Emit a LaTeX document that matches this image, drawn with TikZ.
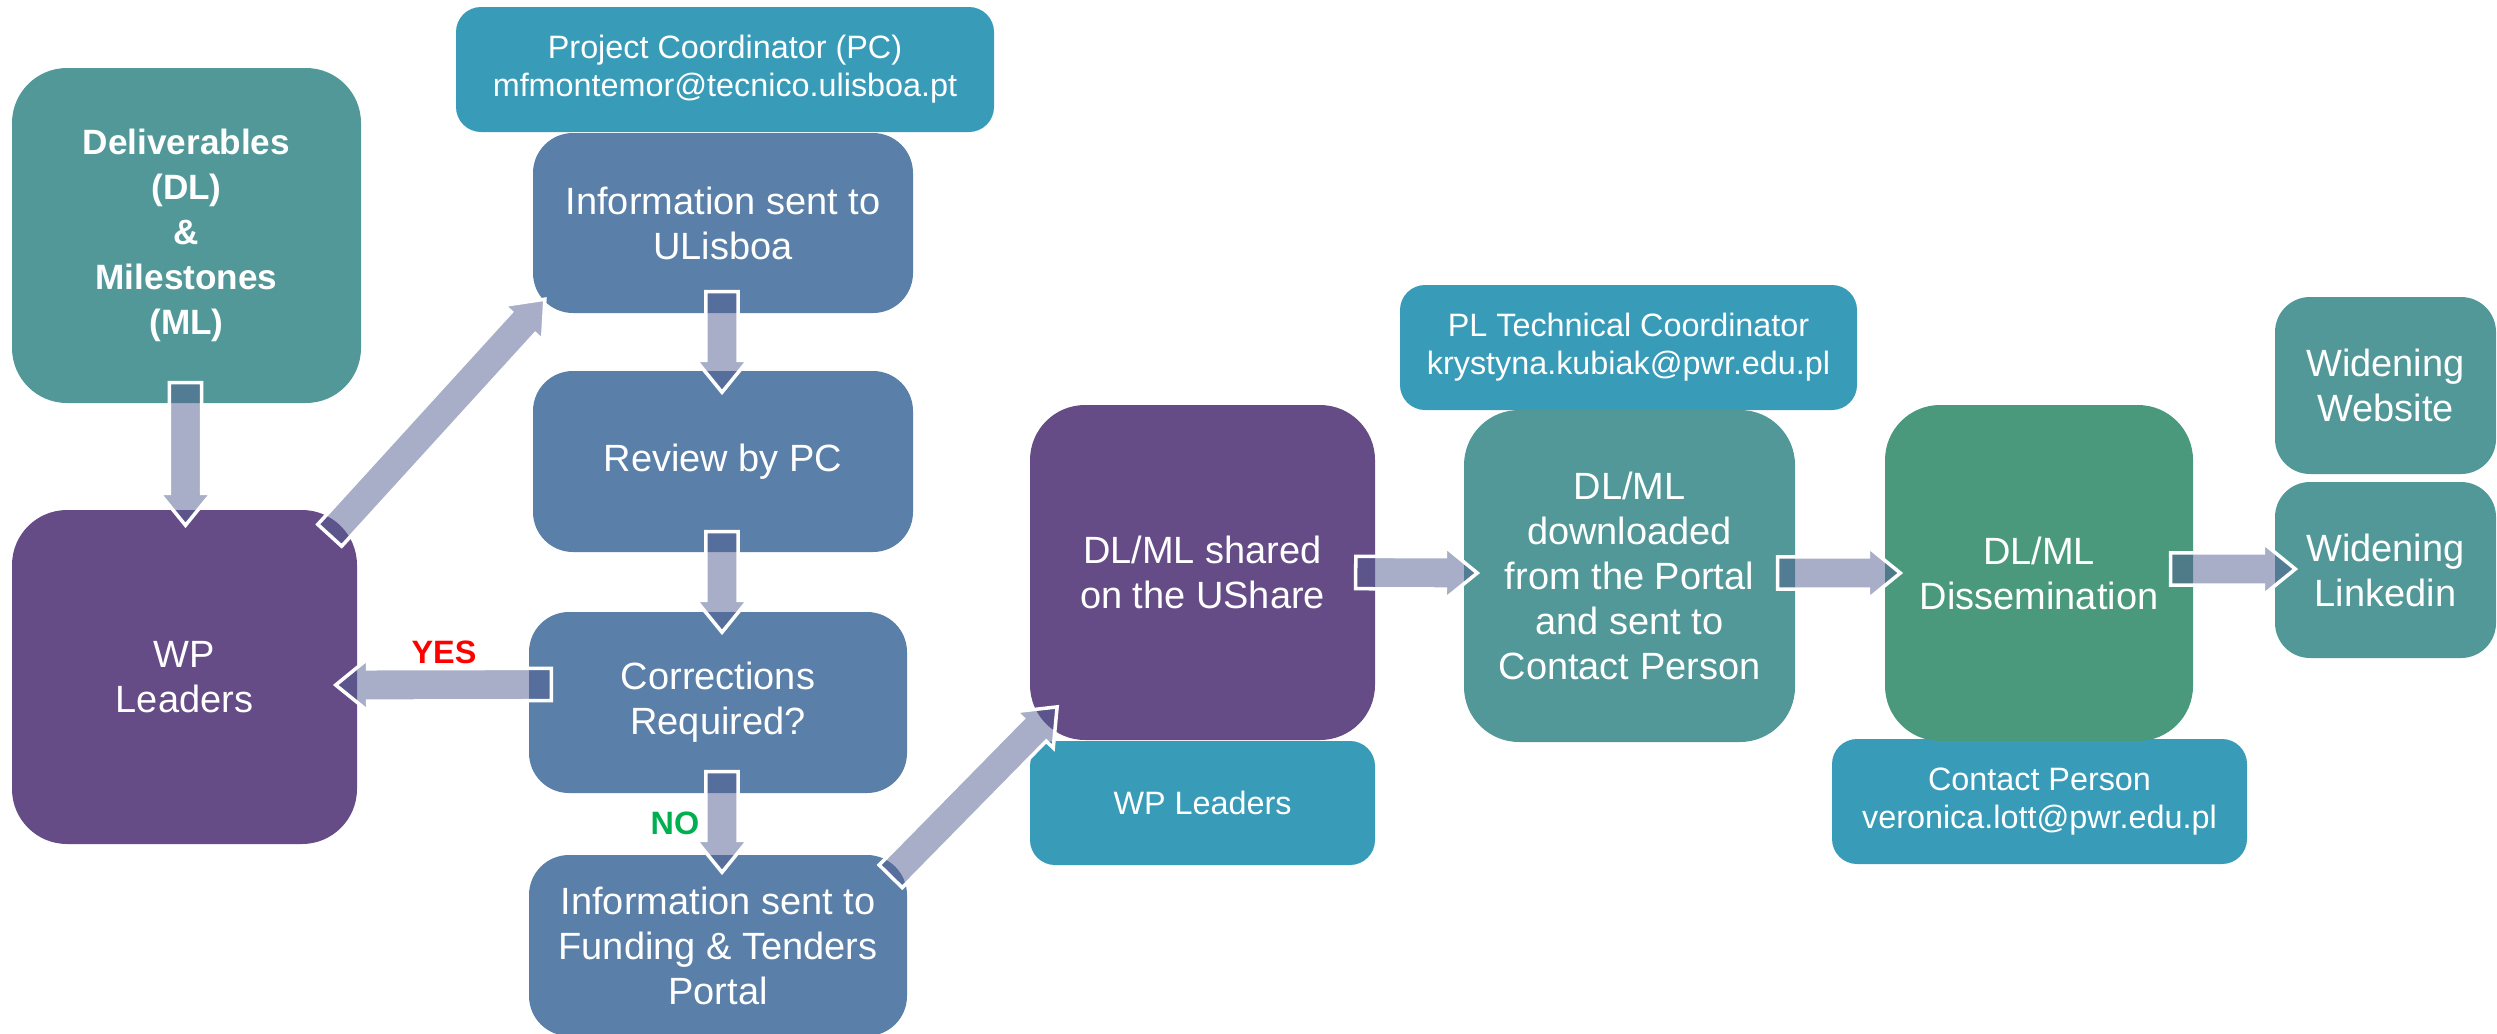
\documentclass[tikz,border=0pt]{standalone}
\usepackage{fontspec}
\setmainfont{Liberation Sans}
\usetikzlibrary{calc}
\definecolor{cteal}{HTML}{529898}
\definecolor{cpurple}{HTML}{654C87}
\definecolor{cblue}{HTML}{5A7FA8}
\definecolor{clight}{HTML}{389CB9}
\definecolor{cgreen}{HTML}{4A997D}
\definecolor{carrow}{HTML}{535F91}
\definecolor{cyes}{HTML}{FF0000}
\definecolor{cno}{HTML}{00B050}
\tikzset{
  box/.style={rectangle, align=center, text=white, inner sep=0pt,
    font=\fontsize{10.8}{12.8}\selectfont},
  bigbox/.style={box, rounded corners=0.55cm},
  midbox/.style={box, fill=cblue, rounded corners=0.4cm},
  infobox/.style={box, fill=clight, rounded corners=0.25cm,
    font=\fontsize{9.2}{10.8}\selectfont},
  webbox/.style={box, fill=cteal, rounded corners=0.35cm},
  boxsz/.style n args={4}{minimum width={(#3-#1)*0.01cm}, minimum height={(#4-#2)*0.01cm}},
  barrowstyle/.style={fill=carrow, fill opacity=0.5, draw=white, draw opacity=1,
    line width=1pt, line join=miter},
  answer/.style={font=\fontsize{9.2}{11}\selectfont\bfseries, inner sep=0pt}
}
\newcommand{\barrow}[2]{%
  \path (#1) coordinate (ba-s) (#2) coordinate (ba-e);
  \path[barrowstyle] let \p1=($(ba-e)-(ba-s)$), \n1={atan2(\y1,\x1)}, \n2={veclen(\x1,\y1)} in
    [shift={(ba-s)}, rotate=\n1] (0pt,-4.6pt) -- ({(\n2-9.1)*1pt},-4.6pt) -- ({(\n2-9.1)*1pt},-7.4pt)
    -- ({\n2*1pt},0pt) -- ({(\n2-9.1)*1pt},7.4pt) -- ({(\n2-9.1)*1pt},4.6pt) -- (0pt,4.6pt) -- cycle;}
\begin{document}
\begin{tikzpicture}[x=0.01cm,y=-0.01cm]
\useasboundingbox (0,0) rectangle (2497,1033);
\fill[white] (0,0) rectangle (2497,1033);
% left column
\node[bigbox, fill=cteal, boxsz={12}{68}{361}{403}, font=\fontsize{10}{12.8}\selectfont\bfseries]
  (del) at ({(12+361)/2},{(68+403)/2}) {Deliverables\\(DL)\\\&\\Milestones\\(ML)};
\node[bigbox, fill=cpurple, boxsz={12}{510}{357}{844}]
  (wp) at ({(12+357)/2},{(510+844)/2}) {WP\\Leaders};
% PC column
\node[infobox, boxsz={456}{7}{994}{132}]
  (pc) at ({(456+994)/2},{(7+132)/2}) {Project Coordinator (PC)\\mfmontemor@tecnico.ulisboa.pt};
\node[midbox, boxsz={533}{133}{913}{313}]
  (uli) at ({(533+913)/2},{(133+313)/2}) {Information sent to\\ULisboa};
\node[midbox, boxsz={533}{371}{913}{552}]
  (rev) at ({(533+913)/2},{(371+552)/2}) {Review by PC};
\node[midbox, boxsz={529}{612}{907}{793}]
  (cor) at ({(529+907)/2},{(612+793)/2}) {Corrections\\Required?};
\node[midbox, boxsz={529}{855}{907}{1036}]
  (fund) at ({(529+907)/2},{(855+1036)/2}) {Information sent to\\Funding \& Tenders\\Portal};
% UShare
\node[infobox, boxsz={1030}{741}{1375}{865}]
  (wps) at ({(1030+1375)/2},{(741+865)/2}) {WP Leaders};
\node[bigbox, fill=cpurple, boxsz={1030}{405}{1375}{740}]
  (shr) at ({(1030+1375)/2},{(405+740)/2}) {DL/ML shared\\on the UShare};
% downloaded
\node[infobox, boxsz={1400}{285}{1857}{410}]
  (pl) at ({(1400+1857)/2},{(285+410)/2}) {PL Technical Coordinator\\krystyna.kubiak@pwr.edu.pl};
\node[bigbox, fill=cteal, boxsz={1464}{410}{1795}{742}]
  (dwn) at ({(1464+1795)/2},{(410+742)/2}) {DL/ML\\downloaded\\from the Portal\\and sent to\\Contact Person};
% dissemination
\node[infobox, boxsz={1832}{739}{2247}{864}]
  (con) at ({(1832+2247)/2},{(739+864)/2}) {Contact Person\\veronica.lott@pwr.edu.pl};
\node[bigbox, fill=cgreen, boxsz={1885}{405}{2193}{741}]
  (dis) at ({(1885+2193)/2},{(405+741)/2}) {DL/ML\\Dissemination};
% widening
\node[webbox, boxsz={2275}{297}{2496}{474}]
  (web) at ({(2275+2496)/2},{(297+474)/2}) {Widening\\Website};
\node[webbox, boxsz={2275}{482}{2496}{658}]
  (lin) at ({(2275+2496)/2},{(482+658)/2}) {Widening\\Linkedin};
% arrows
\barrow{$(del.south)+(-1,-21)$}{$(wp.north)+(1,16)$}
\barrow{$(wp.north east)+(-28,26)$}{$(uli.south west)+(13,-15)$}
\barrow{$(uli.south)+(-1,-22)$}{$(rev.north)+(-1,22)$}
\barrow{$(rev.south)+(-1,-21)$}{$(cor.north)+(4,21)$}
\barrow{$(cor.west)+(23,-18)$}{$(wp.east)+(-22,8)$}
\barrow{$(cor.south)+(4,-22)$}{$(fund.north)+(4,18)$}
\barrow{$(fund.north east)+(-17,22)$}{$(shr.south west)+(28,-34)$}
\barrow{$(shr.east)+(-20,0)$}{$(dwn.west)+(14,-3)$}
\barrow{$(dwn.east)+(-18,-3)$}{$(dis.west)+(16,0)$}
\barrow{$(dis.east)+(-23,-4)$}{$(lin.west)+(21,-1)$}
% answers
\node[answer, text=cyes] (yes) at (444,652) {YES};
\node[answer, text=cno] (no) at (675,823) {NO};
\end{tikzpicture}
\end{document}
